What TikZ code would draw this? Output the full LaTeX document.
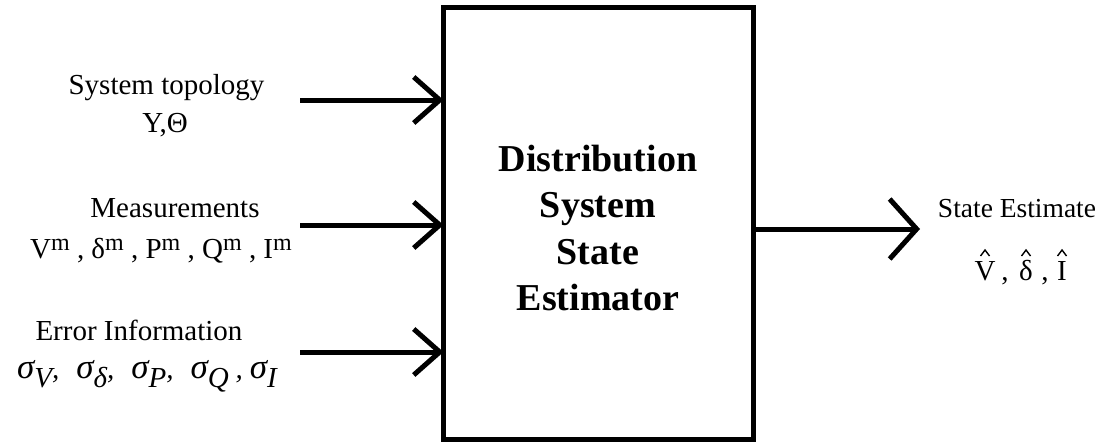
\documentclass[tikz,border=0pt]{standalone}
\usepackage{fontspec}
\setmainfont{Liberation Serif}
\usetikzlibrary{arrows.meta}

% measurement symbol with upright raised m
\newcommand\msym[1]{#1\raisebox{8pt}{\fontsize{24}{24}\selectfont m}}
% standard deviation symbol with lowered subscript
\newcommand\sdev[1]{{\fontsize{35}{35}\selectfont σ}\raisebox{-9pt}{\fontsize{29}{29}\selectfont #1}}

\begin{document}
\begin{tikzpicture}[x=1pt,y=-1pt,
  labeltext/.style={anchor=base,inner sep=0pt,font=\fontsize{29}{29}\selectfont},
  outtext/.style={anchor=base,inner sep=0pt,font=\fontsize{27.5}{27.5}\selectfont},
  hatstroke/.style={line width=1.4pt,line join=miter},
  feed/.style={line width=5pt,-{Straight Barb[length=26pt,width=46pt,line width=5pt]}},
  result/.style={line width=5pt,-{Straight Barb[length=27pt,width=60pt,line width=5pt]}}]

  \useasboundingbox (0,0) rectangle (1106,444);

  % estimator block
  \node[draw,line width=5pt,minimum width=310pt,minimum height=432pt,inner sep=0pt,
        outer sep=0pt] (est) at (598.5,223.75) {};
  \node[align=center,inner sep=0pt,font=\fontsize{38}{46.5}\selectfont\bfseries]
        (esttext) at (598,228) {Distribution\\System\\State\\Estimator};

  % input labels
  \node[labeltext] (topo) at (166.5,95) {System topology};
  \node[labeltext] (topoval) at (165,132) {Y,Θ};
  \node[labeltext] (meas) at (175,217) {Measurements};
  \node[labeltext] (measval) at (161,258)
        {\msym{V} , \msym{δ} , \msym{P} , \msym{Q} , \msym{I}};
  \node[labeltext] (err) at (139,340) {Error Information};
  \node[labeltext,font=\fontsize{29}{29}\selectfont\itshape] (errval) at (147,378)
        {\sdev{V},\hspace{17pt}\sdev{δ},\hspace{17pt}\sdev{P},\hspace{17pt}\sdev{Q}\hspace{7pt},\hspace{7pt}\sdev{I}};

  % output labels
  \node[outtext] (state) at (1017,217) {State Estimate};
  \node[labeltext] (hv) at (985,280) {V};
  \node[labeltext] (c1) at (1005,280) {,};
  \node[labeltext] (hd) at (1026,280) {δ};
  \node[labeltext] (c2) at (1045,280) {,};
  \node[labeltext] (hi) at (1062,280) {I};

  % hats over the estimated quantities
  \foreach \q in {hv,hd,hi}
    \draw[hatstroke] ([xshift=-4.5pt,yshift=24pt]\q.base) -- ([yshift=30pt]\q.base)
                     -- ([xshift=4.5pt,yshift=24pt]\q.base);

  % arrow start points
  \coordinate (in1) at (300,100);
  \coordinate (in2) at (300,225);
  \coordinate (in3) at (300,352);
  \coordinate (out) at (920,229);

  \draw[feed] (in1) -- (in1 -| est.west);
  \draw[feed] (in2) -- (in2 -| est.west);
  \draw[feed] (in3) -- (in3 -| est.west);
  \draw[result] (out -| est.east) -- (out);
\end{tikzpicture}
\end{document}
